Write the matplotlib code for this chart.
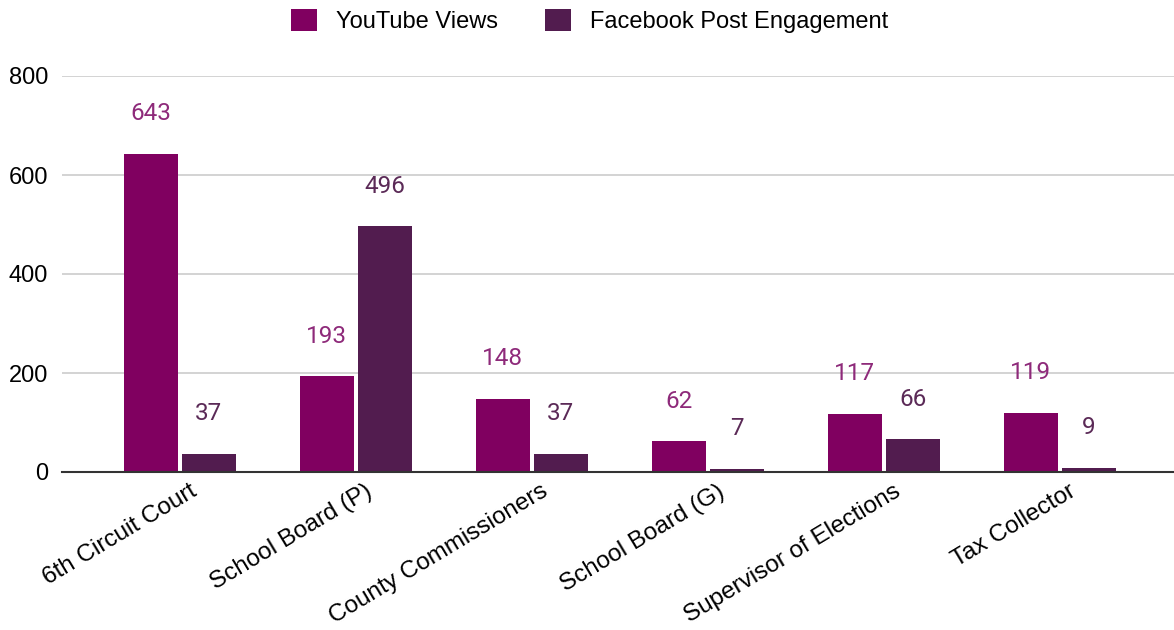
import numpy as np
import matplotlib
matplotlib.use('Agg')
import matplotlib.pyplot as plt
import matplotlib.transforms as mtransforms
from matplotlib.patches import Patch

categories = ['6th Circuit Court', 'School Board (P)', 'County Commissioners',
              'School Board (G)', 'Supervisor of Elections', 'Tax Collector']
youtube_views = [643, 193, 148, 62, 117, 119]
facebook_engagement = [37, 496, 37, 7, 66, 9]
series_names = ['YouTube Views', 'Facebook Post Engagement']
y_ticks = [0, 200, 400, 600, 800]

c_yt = '#800060'
c_fb = '#521c4f'
c_yt_lab = '#8e2a7a'
c_fb_lab = '#5b2a57'

plt.rcParams['font.family'] = ['Liberation Sans', 'DejaVu Sans']

fig = plt.figure(figsize=(11.74, 6.3), dpi=100)
ax = fig.add_axes([62 / 1174, 1 - 472 / 630, 1 - 62 / 1174, (472 - 76) / 630])

x = np.arange(len(categories))
w = 0.307
off = 0.165
b1 = ax.bar(x - off, youtube_views, w, color=c_yt, zorder=3)
b2 = ax.bar(x + off, facebook_engagement, w, color=c_fb, zorder=3)

# value labels above the bars
for bars, vals, col in [(b1, youtube_views, c_yt_lab), (b2, facebook_engagement, c_fb_lab)]:
    for bar, v in zip(bars, vals):
        ax.annotate(str(v), xy=(bar.get_x() + bar.get_width() / 2, v),
                    xytext=(0, 29), textcoords='offset points',
                    ha='center', va='center', fontsize=17.5, color=col,
                    family=['Roboto', 'DejaVu Sans'])

ax.set_ylim(0, 800)
ax.set_xlim(-0.67, 5.65)
ax.set_yticks(y_ticks)
ax.set_yticklabels([str(t) for t in y_ticks], fontsize=17)
ax.set_xticks(x)
ax.set_xticklabels(categories, rotation=31, ha='right', rotation_mode='anchor', fontsize=17.5)
ax.tick_params(axis='both', length=0, pad=10)
ax.tick_params(axis='x', pad=6)
# nudge the category labels a bit right
shift = mtransforms.ScaledTranslation(9 / 100, 0, fig.dpi_scale_trans)
for lab in ax.get_xticklabels():
    lab.set_transform(lab.get_transform() + shift)
ax.grid(axis='y', color='#cccccc', linewidth=1.2, zorder=0)
for s in ['top', 'right', 'left']:
    ax.spines[s].set_visible(False)
ax.spines['bottom'].set_color('#333333')
ax.spines['bottom'].set_linewidth(1.5)
ax.spines['bottom'].set_zorder(4)

handles = [Patch(facecolor=c_yt), Patch(facecolor=c_fb)]
fig.legend(handles, series_names, loc='upper center', bbox_to_anchor=(0.502, 1.02),
           ncol=2, frameon=False, fontsize=17, handlelength=1.1, handleheight=1.1,
           columnspacing=2.0, handletextpad=0.8)

plt.savefig('out.png', dpi=100)
